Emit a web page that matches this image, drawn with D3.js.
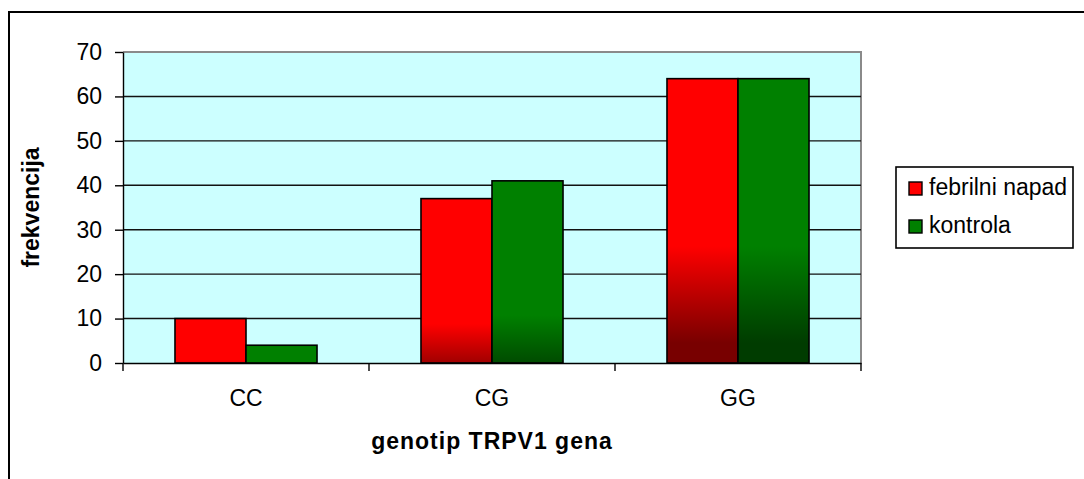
<!DOCTYPE html>
<html>
<head>
<meta charset="utf-8">
<script src="https://cdn.jsdelivr.net/npm/d3@7"></script>
<style>
  body { margin: 0; background: #fff; }
  svg text { font-family: "Liberation Sans", Arial, sans-serif; fill: #000; }
</style>
</head>
<body>
<div id="chart"></div>
<script>
// data
var categories = ["CC", "CG", "GG"]
var seriesNames = ["febrilni napad", "kontrola"]
var febrilni = [10, 37, 64]
var kontrola = [4, 41, 64]
var yTicks = [0, 10, 20, 30, 40, 50, 60, 70]

var colors = {"febrilni napad": ["#ff0000", "#780000"], "kontrola": ["#008000", "#003c00"]}

var W = 1084, H = 479
var plot = {left: 123, top: 52, right: 861, bottom: 363}

var rows = []
categories.forEach(function(c, i) {
  rows.push({cat: c, series: "febrilni napad", value: febrilni[i]})
  rows.push({cat: c, series: "kontrola", value: kontrola[i]})
})

var svg = d3.select("#chart").append("svg")
  .attr("width", W).attr("height", H)

var defs = svg.append("defs")

// outer chart border (only top/left visible in the frame)
svg.append("rect")
  .attr("x", 9).attr("y", 12)
  .attr("width", 1200).attr("height", 600)
  .attr("fill", "#fff")
  .attr("stroke", "#000").attr("stroke-width", 2)

var x = d3.scaleBand().domain(categories).range([plot.left, plot.right])
var x1 = d3.scaleBand().domain(seriesNames).range([0, x.bandwidth()]).paddingOuter(0.732)
var y = d3.scaleLinear().domain([0, 70]).range([plot.bottom, plot.top])

// plot area
svg.append("rect")
  .attr("x", plot.left).attr("y", plot.top)
  .attr("width", plot.right - plot.left).attr("height", plot.bottom - plot.top)
  .attr("fill", "#ccffff")

// top / right border in grey
svg.append("path")
  .attr("d", "M" + plot.left + "," + y(70) + "H" + plot.right + "V" + plot.bottom)
  .attr("fill", "none").attr("stroke", "#8a8a8a").attr("stroke-width", 2)

// gridlines
svg.append("g").selectAll("line")
  .data(yTicks.filter(function(t) { return t > 0 && t < 70 }))
  .enter().append("line")
  .attr("x1", plot.left).attr("x2", plot.right)
  .attr("y1", function(d) { return y(d) }).attr("y2", function(d) { return y(d) })
  .attr("stroke", "#111").attr("stroke-width", 1.4)

// gradients: darker towards the bottom, more so for taller bars
rows.forEach(function(r, i) {
  var c = colors[r.series]
  var fs = r.value / 156
  var t = Math.min(1, fs / 0.34)
  var g = defs.append("linearGradient")
    .attr("id", "grad" + i)
    .attr("x1", 0).attr("y1", 0).attr("x2", 0).attr("y2", 1)
  g.append("stop").attr("offset", 1 - fs).attr("stop-color", c[0])
  g.append("stop").attr("offset", 1 - Math.max(0, fs - 0.34)).attr("stop-color", d3.interpolateRgb(c[0], c[1])(t))
  g.append("stop").attr("offset", 1).attr("stop-color", d3.interpolateRgb(c[0], c[1])(t))
  r.grad = "url(#grad" + i + ")"
})

// bars
svg.append("g").selectAll("rect")
  .data(rows)
  .enter().append("rect")
  .attr("x", function(d) { return x(d.cat) + x1(d.series) })
  .attr("width", x1.bandwidth())
  .attr("y", function(d) { return y(d.value) })
  .attr("height", function(d) { return y(0) - y(d.value) })
  .attr("fill", function(d) { return d.grad })
  .attr("stroke", "#000").attr("stroke-width", 1.6)

// y axis
var yAxis = svg.append("g")
  .attr("transform", "translate(" + plot.left + ",0)")
  .call(d3.axisLeft(y).tickValues(yTicks).tickSize(8).tickPadding(13).tickSizeOuter(0))
yAxis.select(".domain").attr("stroke", "#000").attr("stroke-width", 1.4)
yAxis.selectAll(".tick line").attr("stroke", "#000").attr("stroke-width", 1.4)
yAxis.selectAll("text").style("font-size", "23px").attr("font-family", null)

// x axis: labels centred, ticks on category boundaries
var xAxis = svg.append("g")
  .attr("transform", "translate(0," + plot.bottom + ")")
  .call(d3.axisBottom(x).tickSize(0).tickPadding(27).tickSizeOuter(0))
xAxis.select(".domain").attr("stroke", "#000").attr("stroke-width", 1.6)
xAxis.selectAll("text").style("font-size", "23px").attr("font-family", null)

var bounds = categories.map(function(c) { return x(c) }).concat([x.range()[1]])
xAxis.selectAll(".bound")
  .data(bounds)
  .enter().append("line")
  .attr("class", "bound")
  .attr("x1", function(d) { return d }).attr("x2", function(d) { return d })
  .attr("y1", 0).attr("y2", 8)
  .attr("stroke", "#000").attr("stroke-width", 1.4)

// axis titles
svg.append("text")
  .attr("x", (plot.left + plot.right) / 2).attr("y", 449)
  .attr("text-anchor", "middle")
  .style("font-size", "23px").style("font-weight", "bold")
  .style("letter-spacing", "1px")
  .text("genotip TRPV1 gena")

svg.append("text")
  .attr("transform", "translate(39," + (plot.top + plot.bottom) / 2 + ") rotate(-90)")
  .attr("text-anchor", "middle")
  .style("font-size", "23px").style("font-weight", "bold")
  .text("frekvencija")

// legend
var legend = svg.append("g")
legend.append("rect")
  .attr("x", 896).attr("y", 167).attr("width", 177).attr("height", 81)
  .attr("fill", "#fff").attr("stroke", "#000").attr("stroke-width", 1.6)

var li = legend.selectAll(".item")
  .data(seriesNames)
  .enter().append("g")
  .attr("class", "item")
  .attr("transform", function(d, i) { return "translate(909," + (182 + i * 38) + ")" })
li.append("rect")
  .attr("width", 13).attr("height", 13)
  .attr("fill", function(d) { return colors[d][0] })
  .attr("stroke", "#000").attr("stroke-width", 1.4)
li.append("text")
  .attr("x", 20).attr("y", 13)
  .style("font-size", "23px")
  .text(function(d) { return d })
</script>
</body>
</html>
